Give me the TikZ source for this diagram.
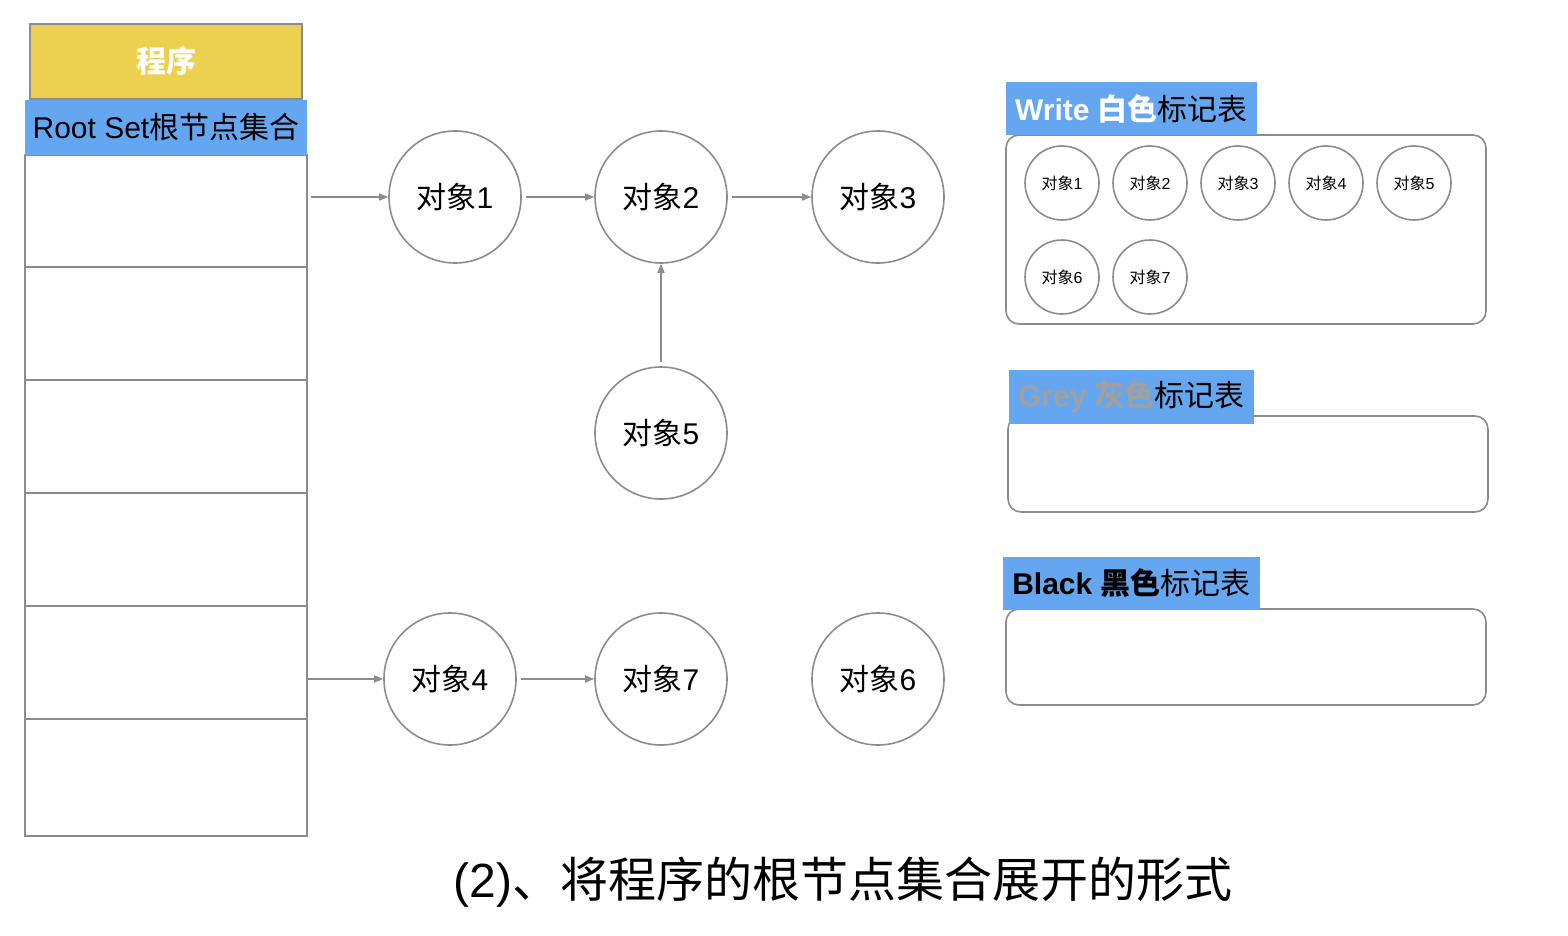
\documentclass[tikz,border=0pt]{standalone}
\usepackage{fontspec}
\setmainfont{Liberation Sans}
\newfontfamily\cjk{Noto Sans CJK SC}
\usetikzlibrary{arrows.meta}
\definecolor{hdrblue}{HTML}{64A6F0}
\definecolor{prgyellow}{HTML}{EDD050}
\definecolor{edgegray}{HTML}{8C8C8C}
\definecolor{greytxt}{HTML}{A0A0A0}
\newcommand{\zh}[1]{{\cjk #1}}
\begin{document}
\begin{tikzpicture}[x=1pt,y=-1pt,
 obj/.style={circle, draw=edgegray, line width=1.6pt, minimum size=132pt, inner sep=0pt, font=\fontsize{30}{36}\selectfont},
 sobj/.style={circle, draw=edgegray, line width=1.6pt, minimum size=74pt, inner sep=0pt, font=\fontsize{16}{19}\selectfont},
 cell/.style={rectangle, draw=edgegray, line width=1.4pt, minimum width=282pt, inner sep=0pt},
 hdr/.style={rectangle, fill=hdrblue, inner sep=0pt, font=\fontsize{30}{36}\selectfont},
 tbl/.style={rectangle, draw=edgegray, line width=1.6pt, rounded corners=13pt, minimum width=480pt, inner sep=0pt},
 link/.style={draw=edgegray, line width=1.5pt, -{Triangle[length=9pt,width=7pt]}}
]
\useasboundingbox (0,0) rectangle (1568,936);
\fill[white] (0,0) rectangle (1568,936);

% left: program and root set
\node[rectangle, fill=prgyellow, draw=edgegray, line width=1.4pt, minimum width=272pt, minimum height=75pt, inner sep=0pt, font=\fontsize{30}{36}\selectfont\bfseries, text=white] (prog) at (166,61.5) {\zh{\bfseries 程序}};
\node[cell, minimum height=112pt] (r1) at (166,211) {};
\node[cell, minimum height=113pt] (r2) at (166,323.5) {};
\node[cell, minimum height=113pt] (r3) at (166,436.5) {};
\node[cell, minimum height=113pt] (r4) at (166,549.5) {};
\node[cell, minimum height=113pt] (r5) at (166,662.5) {};
\node[cell, minimum height=117pt] (r6) at (166,777.5) {};
\node[hdr, minimum width=282pt, minimum height=55pt] (root) at (166,127.5) {Root Set\zh{根节点集合}};

% objects
\node[obj] (o1) at (455,197) {\zh{对象}1};
\node[obj] (o2) at (661,197) {\zh{对象}2};
\node[obj] (o3) at (878,197) {\zh{对象}3};
\node[obj] (o5) at (661,433) {\zh{对象}5};
\node[obj] (o4) at (450,679) {\zh{对象}4};
\node[obj] (o7) at (661,679) {\zh{对象}7};
\node[obj] (o6) at (878,679) {\zh{对象}6};

% connectors
\draw[link, shorten <=3pt] (r1.east |- o1) -- (o1);
\draw[link, shorten <=4pt] (o1) -- (o2);
\draw[link, shorten <=4pt] (o2) -- (o3);
\draw[link, shorten <=4pt] (o5) -- (o2);
\draw[link] (r5.east |- o4) -- (o4);
\draw[link, shorten <=4pt] (o4) -- (o7);

% white table
\node[tbl, minimum height=189pt] (wtab) at (1246,229.5) {};
\node[hdr, minimum width=251pt, minimum height=53pt] (whdr) at (1131.5,108.5) {\textcolor{white}{\textbf{Write} \zh{\bfseries 白色}}\zh{标记表}};
\node[sobj] (w1) at (1062,183) {\zh{对象}1};
\node[sobj] (w2) at (1150,183) {\zh{对象}2};
\node[sobj] (w3) at (1238,183) {\zh{对象}3};
\node[sobj] (w4) at (1326,183) {\zh{对象}4};
\node[sobj] (w5) at (1414,183) {\zh{对象}5};
\node[sobj] (w6) at (1062,277) {\zh{对象}6};
\node[sobj] (w7) at (1150,277) {\zh{对象}7};

% grey table
\node[tbl, minimum height=96pt] (gtab) at (1248,464) {};
\node[hdr, minimum width=245pt, minimum height=54pt] (ghdr) at (1131.5,397) {\textcolor{greytxt}{\textbf{Grey} \zh{\bfseries 灰色}}\zh{标记表}};

% black table
\node[tbl, minimum height=96pt] (btab) at (1246,657) {};
\node[hdr, minimum width=257pt, minimum height=53pt] (bhdr) at (1131.5,583.5) {\textbf{Black} \zh{\bfseries 黑色}\zh{标记表}};

% caption
\node[font=\fontsize{48}{56}\selectfont] (cap) at (843,882) {(2)\zh{、将程序的根节点集合展开的形式}};
\end{tikzpicture}
\end{document}
